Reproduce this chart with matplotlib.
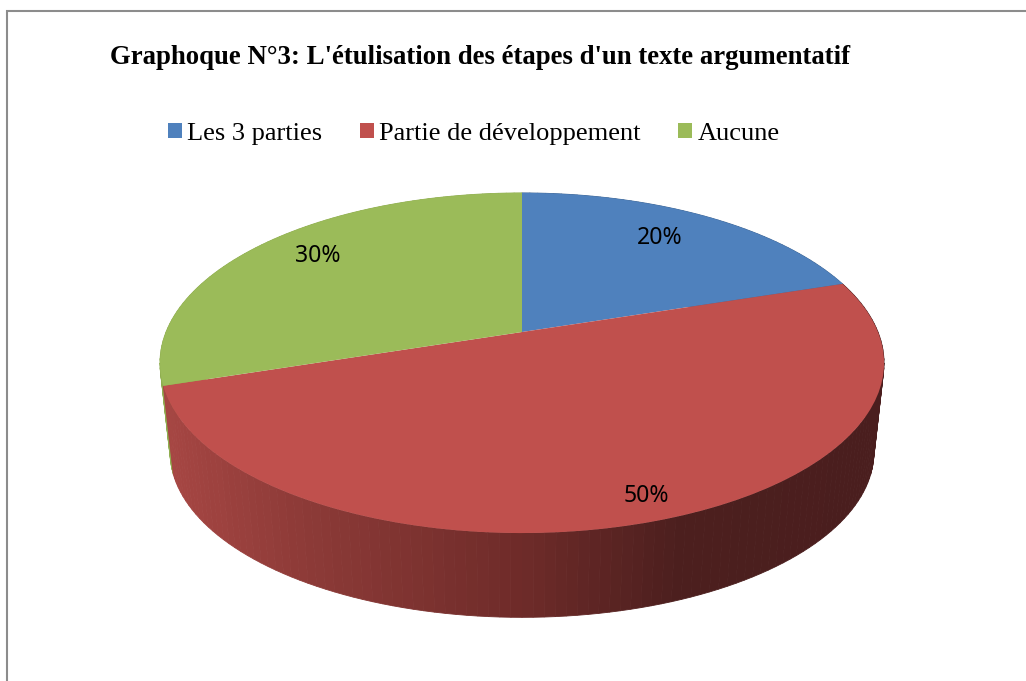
import numpy as np
import matplotlib
matplotlib.use("Agg")
import matplotlib.pyplot as plt
from matplotlib.patches import Patch
from matplotlib.transforms import Transform
from matplotlib.colors import LinearSegmentedColormap

# ---- data
categories = ["Les 3 parties", "Partie de développement", "Aucune"]
values = [20, 50, 30]
colors = ["#4F81BD", "#C0504D", "#9BBB59"]
title = "Graphoque N°3: L'étulisation des étapes d'un texte argumentatif"

W, H = 1026, 681
CX, CY = 522.0, 332.0      # pie pivot in pixels
K, A, B = 0.182, 356.0, 164.4   # perspective of the tilted disc
SCALE, DROP = 0.972, 90.0  # lower rim of the disc


class Tilt(Transform):
    """Perspective view of the flat unit pie, onto pixel coordinates."""
    input_dims = output_dims = 2
    is_separable = False
    has_inverse = False

    def __init__(self, scale=1.0, drop=0.0):
        super().__init__()
        self.scale, self.drop = scale, drop

    def transform_non_affine(self, xy):
        xy = np.asarray(xy, float)
        w = 1 + K * xy[:, 1]
        return np.column_stack([CX + self.scale * A * xy[:, 0] / w,
                                CY + self.drop - self.scale * B * xy[:, 1] / w])


fig = plt.figure(figsize=(W / 100, H / 100), dpi=100)
ax = fig.add_axes([0, 0, 1, 1])
wedges, _ = ax.pie(values, colors=colors, startangle=90, counterclock=False,
                   wedgeprops=dict(linewidth=0))
ax.set_aspect("auto")
ax.set_xlim(0, W)
ax.set_ylim(H, 0)
ax.axis("off")
top = Tilt()
for w in wedges:
    w.set_transform(top + ax.transData)
    w.set_zorder(3)

# ---- side wall of the disc, shaded in thin strips
low = Tilt(SCALE, DROP)
shade = LinearSegmentedColormap.from_list(
    "wall", [(0.0, "#A64643"), (0.18, "#8E3B38"), (0.5, "#6E2B29"),
             (0.72, "#4C1F1E"), (1.0, "#4A1E1E")])
edges = 90 - 360 * np.cumsum([0] + values) / sum(values)  # degrees, clockwise
for i in range(len(values)):
    a0, a1 = edges[i], edges[i + 1]
    n = max(int(abs(a0 - a1) / 1.5), 1)
    th = np.radians(np.linspace(a0, a1, n + 1))
    for j in range(n):
        t = th[j:j + 2]
        uv = np.column_stack([np.cos(t), np.sin(t)])
        p = np.vstack([top.transform(uv), low.transform(uv)[::-1]])
        if i == 2:
            c = "#8FAD50"
        elif i == 1:
            c = shade((p[:, 0].mean() - 170) / 705)
        else:
            c = "#3F6797"
        ax.fill(p[:, 0], p[:, 1], color=c, lw=0.6, zorder=1 if i != 1 else 2)

# ---- frame
ax.plot([7, 7, W], [H, 10.5, 10.5], color="#8C8C8C", lw=1.5, zorder=5,
        solid_joinstyle="miter", clip_on=False)

# ---- texts
ax.text(110, 57, title, family="Liberation Serif", weight="bold", fontsize=19.25,
        ha="left", va="center", color="black")
label_xy = [(660, 238), (646, 496), (318, 256)]
for v, (x, y) in zip(values, label_xy):
    ax.text(x, y, f"{v}%", family="Noto Sans", fontsize=16.6, ha="center",
            va="center", color="black", zorder=6)

handles = [Patch(facecolor=c, edgecolor="none") for c in colors]
ax.legend(handles, categories, ncol=3, loc="center",
          bbox_to_anchor=(473.5 / W, 1 - 134 / H), frameon=False,
          prop={"family": "Liberation Serif", "size": 19},
          handlelength=0.53, handleheight=0.53, handletextpad=0.19,
          columnspacing=1.44, borderpad=0, labelspacing=0)

fig.savefig("out.png", dpi=100)
